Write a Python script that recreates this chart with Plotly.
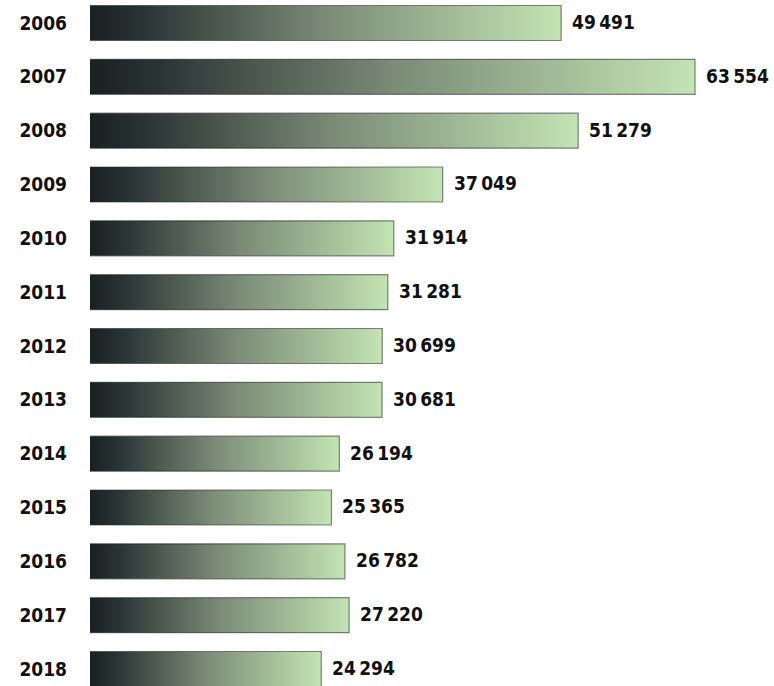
import plotly.graph_objects as go

years = ["2006", "2007", "2008", "2009", "2010", "2011", "2012",
         "2013", "2014", "2015", "2016", "2017", "2018"]
values = [49491, 63554, 51279, 37049, 31914, 31281, 30699,
          30681, 26194, 25365, 26782, 27220, 24294]

FONT = "DejaVu Sans Condensed"
half = 0.325
grad = [[0.0, "#182022"], [0.12, "#2c3536"], [0.5, "#7b8b77"], [1.0, "#c3e4b3"]]

def fmt(v):
    s = f"{v:,}"
    return s.replace(",", "\u2009")

fig = go.Figure()
for i, (yr, v) in enumerate(zip(years, values)):
    fig.add_trace(go.Scatter(
        x=[0, v, v, 0, 0],
        y=[i - half, i - half, i + half, i + half, i - half],
        mode="lines",
        fill="toself",
        fillgradient=dict(type="horizontal", colorscale=grad),
        line=dict(color="rgba(30,38,36,0.55)", width=1.2),
        hoverinfo="skip",
        showlegend=False,
    ))

for i, v in enumerate(values):
    fig.add_annotation(
        x=v, y=i, text=fmt(v), showarrow=False,
        xanchor="left", yanchor="middle", xshift=9, yshift=1,
        font=dict(family=FONT, size=19, color="#111111", weight="bold"),
    )

fig.update_layout(
    width=774, height=686,
    margin=dict(l=90, r=0, t=0, b=0),
    paper_bgcolor="white", plot_bgcolor="white",
    xaxis=dict(range=[0, 71850], visible=False, fixedrange=True),
    yaxis=dict(
        range=[12.316, -0.427],
        tickmode="array",
        tickvals=list(range(len(years))),
        ticktext=years,
        showgrid=False, zeroline=False, showline=False, ticks="",
        ticklabelstandoff=22,
        tickfont=dict(family=FONT, size=19, color="#111111", weight="bold"),
        fixedrange=True,
    ),
)

fig.write_html("out.html")
